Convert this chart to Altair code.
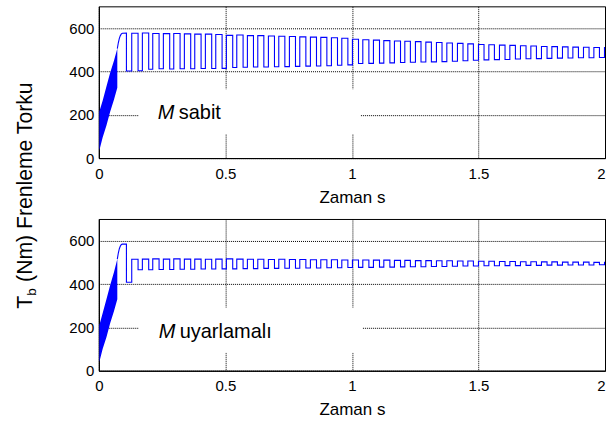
import altair as alt
import pandas as pd

# ---------------- data ----------------
# dense ramp (drawn as a filled band) at the start of braking
band_t = [0.002, 0.015, 0.030, 0.045, 0.060, 0.073]
band_lo_top = [35, 95, 150, 215, 270, 325]
band_hi_top = [215, 265, 330, 395, 450, 505]
band_lo_bot = [40, 100, 155, 220, 275, 330]
band_hi_bot = [210, 265, 330, 395, 455, 515]

# smooth rise to the first peak and first drop
pre_t = [0.073, 0.077, 0.081, 0.085, 0.089, 0.093, 0.109, 0.109]
pre_top = [505, 532, 552, 565, 573, 576, 577, 402]
pre_bot = [515, 543, 563, 575, 582, 584, 584, 408]

# switching instants of the pulsing torque (s)
rise_t = [0.130, 0.172, 0.213, 0.255, 0.296, 0.338, 0.379, 0.421, 0.462, 0.504,
          0.545, 0.587, 0.628, 0.670, 0.711, 0.753, 0.794, 0.836, 0.877, 0.919,
          0.960, 1.002, 1.043, 1.085, 1.126, 1.168, 1.209, 1.251, 1.292, 1.334,
          1.375, 1.417, 1.458, 1.500, 1.541, 1.583, 1.624, 1.666, 1.707, 1.749,
          1.790, 1.832, 1.873, 1.915, 1.956, 1.998]
fall_t = [0.155, 0.197, 0.238, 0.280, 0.321, 0.363, 0.404, 0.446, 0.487, 0.529,
          0.570, 0.611, 0.652, 0.694, 0.735, 0.777, 0.818, 0.860, 0.901, 0.943,
          0.984, 1.026, 1.067, 1.109, 1.150, 1.192, 1.231, 1.273, 1.314, 1.356,
          1.397, 1.439, 1.480, 1.522, 1.563, 1.605, 1.646, 1.688, 1.729, 1.771,
          1.812, 1.854, 1.895, 1.937, 1.978, 2.019]

# upper panel (M sabit) pulse levels (Nm)
top_hi = [576, 577, 575, 574, 575, 573, 572, 572, 570, 566, 568, 565, 565, 563, 562,
          561, 559, 558, 557, 555, 553, 548, 546, 544, 542, 540, 539, 537, 535, 533,
          531, 529, 527, 524, 523, 521, 520, 518, 517, 515, 514, 513, 512, 511, 510, 510]
top_lo = [403, 410, 412, 411, 412, 412, 413, 413, 414, 418, 419, 420, 420, 421, 422,
          423, 424, 425, 426, 428, 430, 436, 437, 438, 439, 441, 442, 443, 444, 445,
          447, 449, 451, 453, 454, 455, 457, 458, 459, 460, 461, 462, 463, 463, 464, 465]

# lower panel (M uyarlamali) pulse levels (Nm)
bot_hi = [514, 515, 516, 515, 516, 515, 515, 514, 515, 516, 515, 514, 514, 513, 514,
          513, 513, 512, 512, 512, 511, 511, 511, 510, 510, 509, 509, 508, 508, 507,
          507, 506, 506, 505, 505, 504, 504, 503, 503, 502, 502, 501, 501, 501, 500, 500]
bot_lo = [466, 466, 467, 467, 468, 468, 469, 469, 470, 470, 471, 471, 472, 472, 473,
          473, 474, 474, 475, 475, 476, 477, 477, 478, 478, 479, 480, 480, 481, 481,
          482, 483, 483, 484, 484, 485, 485, 486, 486, 487, 487, 488, 488, 488, 489, 489]

x_ticks = [0, 0.5, 1, 1.5, 2]
y_ticks = [0, 200, 400, 600]

BLUE = "#0000ff"
FONT = "Liberation Sans"


def series(pre_v, hi, lo):
    ts, vs = list(pre_t), list(pre_v)
    for r, f, h, l in zip(rise_t, fall_t, hi, lo):
        ts += [r, r, f, f]
        vs += [vs[-1], h, h, l]
    return pd.DataFrame({"t": ts, "v": vs, "i": list(range(len(ts)))})


X_AXIS = alt.Axis(values=x_ticks, format="~g", title="Zaman s",
                  labelAlign={"condition": {"test": "datum.value >= 2", "value": "right"},
                              "value": "center"})
Y_AXIS = alt.Axis(values=y_ticks, title=None)


def panel(line_df, blo, bhi, word, box, lab, with_ytitle):
    xenc = alt.X("t:Q", scale=alt.Scale(domain=[0, 2], nice=False, zero=False), axis=X_AXIS)
    one = pd.DataFrame({"a": [0]})
    band_df = pd.DataFrame({"t": band_t, "lo": blo, "hi": bhi})

    rect = alt.Chart(one).mark_rect(color="white").encode(
        x=alt.value(box[0]), x2=alt.value(box[1]), y=alt.value(box[2]), y2=alt.value(box[3]))
    band = alt.Chart(band_df).mark_area(color=BLUE, opacity=1, clip=True).encode(
        x=xenc,
        y=alt.Y("lo:Q", scale=alt.Scale(domain=[0, 700], nice=False), axis=Y_AXIS),
        y2="hi:Q")
    line = alt.Chart(line_df).mark_line(color=BLUE, strokeWidth=1.1, clip=True).encode(
        x=xenc,
        y=alt.Y("v:Q", scale=alt.Scale(domain=[0, 700], nice=False), axis=Y_AXIS),
        order="i:Q")
    m = alt.Chart(one).mark_text(fontStyle="italic", fontSize=20, font=FONT, align="left",
                                 baseline="alphabetic", color="black").encode(
        x=alt.value(lab[0]), y=alt.value(lab[1]), text=alt.value("M"))
    w = alt.Chart(one).mark_text(fontSize=20, font=FONT, align="left",
                                 baseline="alphabetic", color="black").encode(
        x=alt.value(lab[0] + 21), y=alt.value(lab[1]), text=alt.value(word))
    layers = [rect, band, line, m, w]
    if with_ytitle:
        common = dict(font=FONT, angle=270, align="left", baseline="alphabetic", color="black")
        t1 = alt.Chart(one).mark_text(fontSize=21.2, **common).encode(
            x=alt.value(-67), y=alt.value(303), text=alt.value("T"))
        t2 = alt.Chart(one).mark_text(fontSize=13.5, **common).encode(
            x=alt.value(-63), y=alt.value(290), text=alt.value("b"))
        t3 = alt.Chart(one).mark_text(fontSize=21.2, **common).encode(
            x=alt.value(-67), y=alt.value(276), text=alt.value("(Nm) Frenleme Torku"))
        anchor = alt.Chart(one).mark_rule(strokeOpacity=0).encode(
            x=alt.value(-98), x2=alt.value(-97), y=alt.value(-5), y2=alt.value(-4))
        layers += [t1, t2, t3, anchor]
    return alt.layer(*layers).properties(width=507, height=152)


top = panel(series(pre_top, top_hi, top_lo), band_lo_top, band_hi_top, "sabit",
            (40, 262, 83, 128), (59, 113), True)
bot = panel(series(pre_bot, bot_hi, bot_lo), band_lo_bot, band_hi_bot, "uyarlamalı",
            (40, 264, 89, 134), (60, 119), False)

chart = alt.vconcat(top, bot, spacing=61, bounds="flush").properties(
    padding=0, background="white"
).configure_view(stroke="black", strokeWidth=1).configure_axis(
    domainColor="black", domainWidth=1, ticks=False, tickSize=0,
    labelFont=FONT, labelFontSize=15, labelColor="black", labelPadding=5,
    titleFont=FONT, titleFontSize=17, titleFontWeight="normal", titleColor="black",
    gridColor="black", gridDash=[1, 1], gridOpacity=1, gridWidth=1
).configure_axisX(labelPadding=8, titlePadding=8)

chart.save("out.html", embed_options={"renderer": "svg", "actions": False})
